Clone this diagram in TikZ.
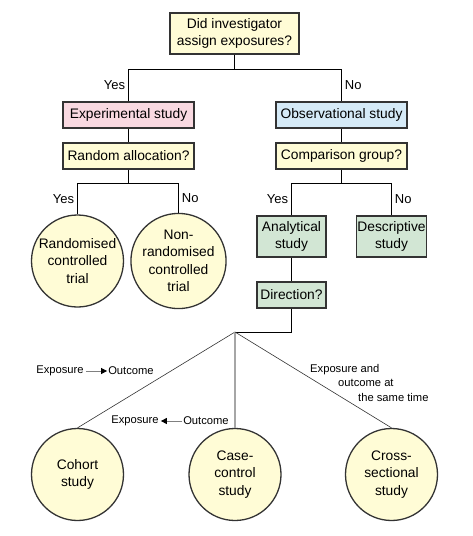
\documentclass[tikz,border=0pt]{standalone}
\usepackage{fontspec}
\setmainfont{Liberation Sans}
\usepackage{xcolor}
\usetikzlibrary{calc,arrows.meta}

\definecolor{qyellow}{HTML}{FFFCD6}
\definecolor{qpink}{HTML}{F9D9E1}
\definecolor{qblue}{HTML}{D5EAF7}
\definecolor{qgreen}{HTML}{D2E6D4}
\definecolor{qedge}{HTML}{333333}

\tikzset{
  qbox/.style={draw=qedge, line width=1.3pt, inner sep=1pt, align=center,
    font=\fontsize{13.8}{17.5}\selectfont},
  qcircle/.style={draw=qedge, line width=1.3pt, circle, fill=qyellow,
    minimum size=92pt, inner sep=0pt, align=center,
    font=\fontsize{13.8}{17.5}\selectfont},
  link/.style={line width=0.9pt, black},
  ray/.style={line width=0.6pt, qedge},
  answer/.style={font=\fontsize{13}{15}\selectfont, inner sep=3pt},
  hint/.style={font=\fontsize{11.2}{14.5}\selectfont, inner sep=0pt},
}

\begin{document}
\begin{tikzpicture}[x=1pt,y=-1pt]
\useasboundingbox (0,0) rectangle (472,536);

% =====================
% Top question
% =====================
\node[qbox, fill=qyellow, minimum width=129pt, minimum height=41pt] (assign) at (234.5,33.5)
  {Did investigator\\assign exposures?};
\coordinate (split1) at (234.5,69);

% =====================
% Experimental branch
% =====================
\node[qbox, fill=qpink, minimum width=131pt, minimum height=26pt] (exper) at (128.5,115) {Experimental study};
\node[qbox, fill=qyellow, minimum width=131pt, minimum height=26pt] (random) at (128.5,156) {Random allocation?};
\coordinate (split2) at (128.5,183);
\node[qcircle] (rct) at (77.5,261) {Randomised\\controlled\\trial};
\node[qcircle] (nrct) at (178.5,261) {Non-\\randomised\\controlled\\trial};

% =====================
% Observational branch
% =====================
\node[qbox, fill=qblue, minimum width=131pt, minimum height=26pt] (observ) at (341.5,115) {Observational study};
\node[qbox, fill=qyellow, minimum width=131pt, minimum height=26pt] (compar) at (341.5,156) {Comparison group?};
\coordinate (split3) at (341.5,183);
\node[qbox, fill=qgreen, minimum width=69pt, minimum height=41pt] (analyt) at (291.5,236.5) {Analytical\\study};
\node[qbox, fill=qgreen, minimum width=69pt, minimum height=41pt] (descr) at (391.5,236.5) {Descriptive\\study};
\node[qbox, fill=qgreen, minimum width=69pt, minimum height=26pt] (direct) at (291.5,295) {Direction?};
\coordinate (hub) at (235,332);

% =====================
% Study designs at the bottom
% =====================
\node[qcircle] (cohort) at (77.5,474.5) {Cohort\\study};
\node[qcircle] (casec) at (235,474.5) {Case-\\control\\study};
\node[qcircle] (cross) at (391.5,474.5) {Cross-\\sectional\\study};

% =====================
% Connectors
% =====================
\draw[link] (assign) -- (split1);
\draw[link] (exper.north) -- node[answer, left] {Yes} (exper.north |- split1)
  -- (observ.north |- split1) -- node[answer, right] {No} (observ.north);
\draw[link] (exper) -- (random);
\draw[link] (observ) -- (compar);

\draw[link] (random) -- (split2);
\draw[link] (rct.north) -- node[answer, left] {Yes} (rct.north |- split2)
  -- (nrct.north |- split2) -- node[answer, right] {No} (nrct.north);

\draw[link] (compar) -- (split3);
\draw[link] (analyt.north) -- node[answer, left] {Yes} (analyt.north |- split3)
  -- (descr.north |- split3) -- node[answer, right] {No} (descr.north);

\draw[link] (analyt) -- (direct);
\draw[link] (direct.south) |- (hub);

\draw[ray] (hub) -- (cohort.north);
\draw[line width=1.6pt, gray!70] (hub) -- (casec.north);
\draw[ray] (hub) -- (cross.north);

% =====================
% Direction annotations
% =====================
\node[hint] (expoA) at (60,371) {Exposure};
\node[hint] (outcA) at (131,371) {Outcome};
\draw[gray, line width=0.8pt, -{Triangle[black, length=6pt, width=6pt]}] (expoA.east) ++(2pt,0) -- ($(outcA.west)+(-1pt,0)$);

\node[hint] (expoB) at (135,421) {Exposure};
\node[hint] (outcB) at (206,421) {Outcome};
\draw[gray, line width=0.8pt, -{Triangle[black, length=6pt, width=6pt]}] (outcB.west) ++(-1pt,0) -- ($(expoB.east)+(2pt,0)$);

\node[hint, anchor=north west, align=left] (same) at (310,364)
  {Exposure and\\\hspace*{28pt}outcome at\\\hspace*{48pt}the same time};
\end{tikzpicture}
\end{document}
